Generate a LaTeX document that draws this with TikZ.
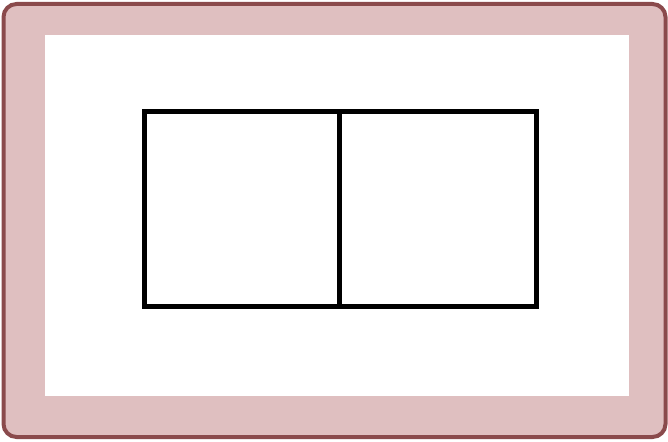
\documentclass[tikz,border=0pt]{standalone}
\usetikzlibrary{positioning}
\definecolor{framefill}{HTML}{DFBFC0}
\definecolor{frameedge}{HTML}{8A4A4C}
\begin{document}
\begin{tikzpicture}[x=1pt, y=-1pt]
      \useasboundingbox (0,0) rectangle (668,441);
      % Frame
      \draw[frameedge, fill=framefill, line width=4pt, rounded corners=13pt] (3.5,4) rectangle (665.5,437);
      \fill[white] (45,35.5) rectangle (629,395.5);

      % Two cells
      \node[rectangle, draw, line width=5pt, minimum width=195pt, minimum height=194.5pt, inner sep=0pt, outer sep=0pt, anchor=north west] (cellL) at (144.5,111.5) {};
      \node[rectangle, draw, line width=5pt, minimum width=196.5pt, minimum height=194.5pt, inner sep=0pt, outer sep=0pt, anchor=north west] (cellR) at (cellL.north east) {};
    \end{tikzpicture}
\end{document}
